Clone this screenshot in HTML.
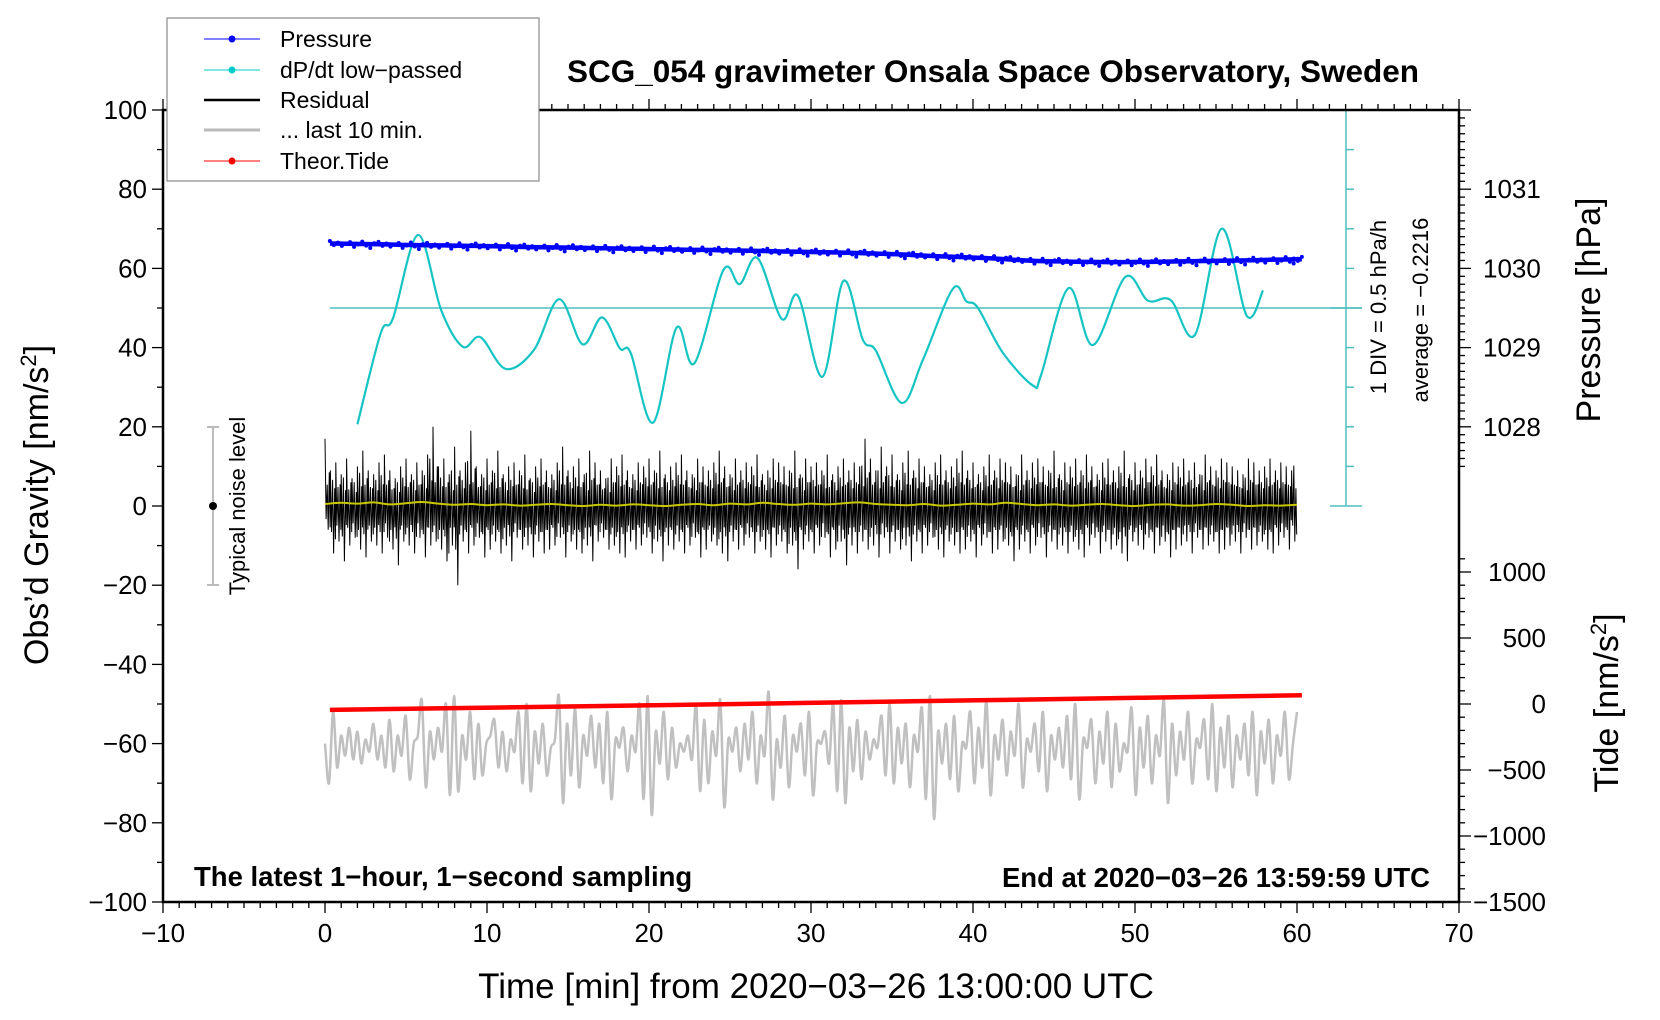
<!DOCTYPE html>
<html><head><meta charset="utf-8"><style>
html,body{margin:0;padding:0;background:#fff;}
svg{display:block;font-family:"Liberation Sans",Arial,sans-serif;}
</style></head><body>
<svg id="chart" width="1660" height="1020" viewBox="0 0 1660 1020" xmlns="http://www.w3.org/2000/svg">
<rect width="1660" height="1020" fill="#fff"/>
<g id="marks"></g>
<g id="axes"></g>
<text x="993" y="82" text-anchor="middle" font-size="31.5" font-weight="bold">SCG_054 gravimeter Onsala Space Observatory, Sweden</text>
<text x="816" y="998" text-anchor="middle" font-size="35">Time [min] from 2020−03−26 13:00:00 UTC</text>
<text transform="translate(48,505) rotate(-90)" text-anchor="middle" font-size="34">Obs’d Gravity [nm/s<tspan dy="-12" font-size="22">2</tspan><tspan dy="12">]</tspan></text>
<text transform="translate(1600,310) rotate(-90)" text-anchor="middle" font-size="34">Pressure [hPa]</text>
<text transform="translate(1618,703) rotate(-90)" text-anchor="middle" font-size="34">Tide [nm/s<tspan dy="-12" font-size="22">2</tspan><tspan dy="12">]</tspan></text>
<text transform="translate(1386,307) rotate(-90)" text-anchor="middle" font-size="22">1 DIV = 0.5 hPa/h</text>
<text transform="translate(1428,310) rotate(-90)" text-anchor="middle" font-size="22">average = −0.2216</text>
<text x="194" y="886" font-size="27.5" font-weight="bold">The latest 1−hour, 1−second sampling</text>
<text x="1430" y="887" text-anchor="end" font-size="27.5" font-weight="bold">End at 2020−03−26 13:59:59 UTC</text>
<g>
<line x1="213" y1="427" x2="213" y2="585" stroke="#bbb" stroke-width="2"/>
<line x1="207" y1="427" x2="219" y2="427" stroke="#bbb" stroke-width="2"/>
<line x1="207" y1="585" x2="219" y2="585" stroke="#bbb" stroke-width="2"/>
<circle cx="213" cy="506" r="4" fill="#000"/>
<text transform="translate(245,506) rotate(-90)" text-anchor="middle" font-size="22">Typical noise level</text>
</g>
<g>
<rect x="167" y="18" width="372" height="163" fill="#fff" stroke="#888" stroke-width="1.2"/>
<g><line x1="204" y1="39" x2="260" y2="39" stroke="#00f" stroke-width="1"/><circle cx="232" cy="39" r="3.5" fill="#00f"/><text x="280" y="47" font-size="23">Pressure</text></g>
<g><line x1="204" y1="70" x2="260" y2="70" stroke="#0cc" stroke-width="1"/><circle cx="232" cy="70" r="3.5" fill="#0cc"/><text x="280" y="78" font-size="23">dP/dt low−passed</text></g>
<g><line x1="204" y1="100" x2="260" y2="100" stroke="#000" stroke-width="2.5"/><text x="280" y="108" font-size="23">Residual</text></g>
<g><line x1="204" y1="130" x2="260" y2="130" stroke="#bbb" stroke-width="3"/><text x="280" y="138" font-size="23">... last 10 min.</text></g>
<g><line x1="204" y1="161" x2="260" y2="161" stroke="#f00" stroke-width="1"/><circle cx="232" cy="161" r="3.5" fill="#f00"/><text x="280" y="169" font-size="23">Theor.Tide</text></g>
</g>
</svg>
<script>
// ---- data ----
const pressureT0 = 0.3;
const pressureVals = [1030.315,1030.312,1030.308,1030.305,1030.300,1030.296,1030.292,1030.290,1030.287,1030.284,1030.280,1030.276,1030.270,1030.268,1030.265,1030.262,1030.258,1030.254,1030.250,1030.247,1030.244,1030.240,1030.236,1030.233,1030.230,1030.226,1030.222,1030.218,1030.214,1030.210,1030.206,1030.202,1030.198,1030.192,1030.186,1030.178,1030.168,1030.158,1030.150,1030.143,1030.135,1030.125,1030.112,1030.100,1030.092,1030.088,1030.084,1030.082,1030.080,1030.080,1030.082,1030.084,1030.087,1030.090,1030.093,1030.097,1030.100,1030.104,1030.108,1030.112,1030.115];
const dpdtTimes = [2.0,3.44,4.2,5.74,7.17,8.5,9.6,11.15,12.9,14.45,15.9,17.1,18.2,18.87,20.25,21.7,22.8,24.6,25.6,26.7,28.2,29.2,30.7,32.0,33.2,34.0,35.6,36.9,38.75,39.6,40.3,41.85,43.7,44.2,45.9,47.4,49.4,50.8,52.2,53.7,55.35,56.9,57.9];
const dpdtVals = [-1.69,-0.54,-0.35,0.70,-0.25,-0.71,-0.59,-0.99,-0.75,-0.11,-0.68,-0.34,-0.73,-0.79,-1.67,-0.47,-0.92,0.26,0.08,0.41,-0.36,-0.07,-1.09,0.12,-0.62,-0.76,-1.42,-0.88,0.02,-0.14,-0.22,-0.79,-1.20,-1.07,0.03,-0.69,0.17,-0.13,-0.12,-0.56,0.78,-0.32,0.00];
const dpdtAverage = -0.2216;
const residHi = [17,9,11,8,12,7,10,14,9,8,11,13,9,7,10,12,8,11,9,13,20,10,12,8,15,9,11,19,10,8,12,9,14,8,10,11,9,13,7,10,12,9,8,11,15,9,10,12,8,14,11,9,7,12,10,13,9,8,11,10,12,9,14,8,10,11,13,9,8,12,10,9,11,14,10,8,12,9,11,10,13,8,9,12,11,10,9,14,8,12,10,11,9,13,8,10,12,9,11,10,17,12,9,15,10,13,8,11,14,9,12,10,8,11,13,9,10,12,14,9,11,8,10,13,9,12,11,10,8,13,9,11,12,10,9,14,8,11,10,12,9,13,10,8,11,12,9,10,14,8,11,9,12,10,13,9,8,11,10,12,9,11,8,13,10,9,12,11,10,9,8,12,11,9,10,12,9,11,10,9];
const residLo = [-6,-12,-9,-14,-10,-8,-11,-13,-9,-10,-12,-8,-11,-15,-9,-10,-12,-8,-13,-10,-9,-11,-14,-10,-20,-9,-12,-10,-8,-13,-11,-9,-12,-10,-14,-8,-11,-10,-13,-9,-12,-11,-10,-8,-13,-9,-11,-12,-10,-14,-9,-8,-11,-10,-12,-13,-9,-11,-10,-8,-12,-9,-14,-10,-11,-9,-12,-10,-8,-13,-11,-9,-10,-12,-14,-9,-11,-10,-8,-12,-9,-11,-13,-10,-9,-12,-10,-16,-11,-9,-12,-10,-8,-13,-11,-9,-15,-10,-12,-9,-11,-10,-13,-8,-12,-9,-11,-10,-14,-9,-12,-10,-8,-11,-13,-9,-10,-12,-11,-9,-13,-10,-8,-12,-11,-9,-10,-14,-11,-9,-12,-10,-8,-13,-9,-11,-10,-12,-9,-11,-13,-10,-8,-12,-9,-11,-10,-12,-14,-9,-10,-11,-8,-12,-10,-9,-13,-11,-10,-9,-12,-8,-11,-10,-9,-12,-11,-10,-9,-12,-8,-11,-10,-9,-11,-12,-10,-8,-11,-9];
const smoothVals = [0.5,0.8,0.6,0.9,0.4,0.7,1.0,0.6,0.3,0.5,0.2,0.4,0.1,0.3,0.5,0.2,0.0,0.3,0.1,0.4,0.2,0.0,0.3,0.5,0.2,0.6,0.4,0.8,0.5,0.3,0.6,0.4,0.7,0.9,0.5,0.3,0.2,0.5,0.1,0.3,0.6,0.4,0.8,0.5,0.2,0.4,0.1,0.3,0.5,0.2,0.0,0.3,0.4,0.1,0.2,0.5,0.3,0.0,0.2,0.1,0.3];
const last10Vals = [-60,-70,-52,-66,-58,-63,-56,-64,-57,-65,-59,-62,-55,-64,-58,-66,-54,-67,-58,-63,-53,-69,-60,-58,-49,-71,-57,-64,-56,-62,-50,-73,-48,-72,-58,-64,-52,-69,-55,-68,-60,-58,-54,-66,-57,-67,-59,-62,-52,-70,-50,-72,-57,-65,-55,-68,-61,-59,-48,-75,-55,-68,-51,-71,-58,-63,-53,-66,-55,-70,-52,-74,-59,-61,-56,-67,-58,-62,-50,-74,-48,-78,-57,-65,-52,-69,-56,-66,-60,-62,-58,-64,-50,-72,-54,-70,-57,-63,-49,-76,-59,-62,-56,-67,-55,-64,-52,-70,-58,-63,-47,-74,-59,-66,-53,-71,-58,-62,-55,-68,-52,-73,-60,-60,-57,-65,-50,-72,-49,-75,-56,-67,-54,-69,-57,-64,-59,-61,-53,-68,-50,-70,-56,-65,-55,-71,-58,-62,-51,-74,-48,-79,-57,-65,-55,-69,-53,-72,-60,-61,-52,-70,-56,-66,-49,-73,-58,-64,-54,-68,-57,-63,-50,-71,-59,-62,-55,-67,-52,-72,-58,-64,-56,-66,-53,-69,-50,-74,-59,-61,-54,-70,-57,-65,-52,-71,-55,-67,-60,-62,-51,-73,-56,-66,-53,-70,-58,-63,-49,-75,-55,-68,-57,-64,-52,-70,-59,-61,-54,-69,-50,-72,-56,-66,-53,-71,-58,-64,-55,-68,-52,-73,-57,-65,-54,-70,-58,-63,-52,-69,-60,-52];
const tideTimes = [0.3,10.3,20.3,30.3,40.3,50.3,60.3];
const tideVals = [-45,-27,-9,9,28,47,66];
const xTicks = [-10,0,10,20,30,40,50,60,70];
const yTicks = [100,80,60,40,20,0,-20,-40,-60,-80,-100];
const pressureTicks = [1031,1030,1029,1028];
const tideTicks = [1000,500,0,-500,-1000,-1500];

// ---- scales ----
const X = t => 325 + t * 16.2;
const G = g => 110 + (100 - g) * 3.96;
const P = p => G(60 + (p - 1030) * 20);
const T = v => G(v / 30 - 50);
const D = d => G(50 + (d - dpdtAverage) * 20);

const NS = 'http://www.w3.org/2000/svg';
const marks = document.getElementById('marks');
const axes = document.getElementById('axes');
function mk(tag, attrs, parent) {
  const e = document.createElementNS(NS, tag);
  for (const k in attrs) e.setAttribute(k, attrs[k]);
  parent.appendChild(e);
  return e;
}
function smoothPath(pts) {
  let d = 'M' + pts[0][0].toFixed(1) + ',' + pts[0][1].toFixed(1);
  for (let i = 0; i < pts.length - 1; i++) {
    const p0 = pts[i - 1] || pts[i], p1 = pts[i], p2 = pts[i + 1], p3 = pts[i + 2] || p2;
    const c1x = p1[0] + (p2[0] - p0[0]) / 6, c1y = p1[1] + (p2[1] - p0[1]) / 6;
    const c2x = p2[0] - (p3[0] - p1[0]) / 6, c2y = p2[1] - (p3[1] - p1[1]) / 6;
    d += 'C' + c1x.toFixed(1) + ',' + c1y.toFixed(1) + ' ' + c2x.toFixed(1) + ',' + c2y.toFixed(1) + ' ' + p2[0].toFixed(1) + ',' + p2[1].toFixed(1);
  }
  return d;
}

// dP/dt reference axis
const refAxis = mk('g', {}, marks);


mk('line', {x1: X(0.3), y1: D(dpdtAverage), x2: 1362, y2: D(dpdtAverage), stroke: '#4fbfbf', 'stroke-width': 1.5}, refAxis);
mk('line', {x1: 1346, y1: G(100), x2: 1346, y2: G(0), stroke: '#4fbfbf', 'stroke-width': 1.5}, refAxis);
for (let g = 0; g <= 100; g += 10) {
  const major = (g === 0 || g === 50 || g === 100);
  mk('line', {x1: major ? 1330 : 1346, y1: G(g), x2: major ? 1362 : 1354, y2: G(g), stroke: '#4fbfbf', 'stroke-width': 1.5}, refAxis);
}

// last 10 min (grey)
const lastPts = last10Vals.map((v, i) => [X(i * 60 / (last10Vals.length - 1)), G(v)]);
const grey = mk('path', {d: smoothPath(lastPts), fill: 'none', stroke: '#c0c0c0', 'stroke-width': 2.5}, marks);



// tide (red)
const tidePts = tideTimes.map((t, i) => [X(t), T(tideVals[i])]);
const tide = mk('path', {d: 'M' + tidePts.map(p => p[0].toFixed(1) + ',' + p[1].toFixed(1)).join('L'), fill: 'none', stroke: '#f00', 'stroke-width': 4.5}, marks);



// residual (black)
let rd = '';
const nb = residHi.length;
const w = 60 / nb;
for (let i = 0; i < nb; i++) {
  const t0 = i * w;
  const hiN = residHi[(i + 1) % nb], loN = residLo[(i + 2) % nb];
  const seq = [[t0, residHi[i]], [t0 + w * 0.2, residLo[i] * 0.55], [t0 + w * 0.4, hiN * 0.6], [t0 + w * 0.6, residLo[i]], [t0 + w * 0.8, residHi[i] * 0.5], [t0 + w * 0.95, loN * 0.6]];
  seq.forEach((p, j) => {
    rd += ((i === 0 && j === 0) ? 'M' : 'L') + X(p[0]).toFixed(1) + ',' + G(p[1]).toFixed(1);
  });
}
const resid = mk('path', {d: rd, fill: 'none', stroke: '#000', 'stroke-width': 1}, marks);



// smoothed residual (yellow)
const smPts = smoothVals.map((v, i) => [X(i * 60 / (smoothVals.length - 1)), G(v)]);
const sm = mk('path', {d: smoothPath(smPts), fill: 'none', stroke: '#c8c800', 'stroke-width': 2}, marks);



// dP/dt (cyan)
const dPts = dpdtTimes.map((t, i) => [X(t), D(dpdtVals[i])]);
const dp = mk('path', {d: smoothPath(dPts), fill: 'none', stroke: '#17c4c4', 'stroke-width': 2.2}, marks);



// pressure (blue)
const pPts = pressureVals.map((v, i) => [X(pressureT0 + i), P(v)]);
const pr = mk('path', {d: smoothPath(pPts), fill: 'none', stroke: '#00f', 'stroke-width': 4.5}, marks);


const jit = [-3, 2, -1, 3, 0, -2, 4, 1, -3, 2, 5, -1];
pPts.forEach((p, i) => {
  for (let k = 0; k < 4; k++) {
    const off = (i === pPts.length - 1) ? -k * 4 : k * 4;
    const c = mk('circle', {cx: p[0] + off, cy: p[1] + jit[(i * 4 + k) % jit.length] * 0.8, r: 2, fill: '#00f'}, marks);
    
    
  }
});

// ---- axes ----
const L = X(-10), R = X(70), TOP = G(100), BOT = G(-100);
const frame = mk('rect', {x: L, y: TOP, width: R - L, height: BOT - TOP, fill: 'none', stroke: '#000', 'stroke-width': 2.5}, axes);


for (let t = -10; t <= 70; t++) {
  const len = (t % 10 === 0) ? 11 : 6;
  mk('line', {x1: X(t), y1: BOT, x2: X(t), y2: BOT + len, stroke: '#000', 'stroke-width': 1.3}, axes);
  mk('line', {x1: X(t), y1: TOP, x2: X(t), y2: TOP - len, stroke: '#000', 'stroke-width': 1.3}, axes);
}
xTicks.forEach(t => {
  const tx = mk('text', {x: X(t), y: BOT + 40, 'text-anchor': 'middle', 'font-size': 26}, axes);
  tx.textContent = String(t).replace('-', '−');
  
  
});
for (let g = -100; g <= 100; g += 10) {
  const len = (g % 20 === 0) ? 11 : 6;
  mk('line', {x1: L - len, y1: G(g), x2: L, y2: G(g), stroke: '#000', 'stroke-width': 1.3}, axes);
}
yTicks.forEach(g => {
  const tx = mk('text', {x: L - 16, y: G(g) + 9, 'text-anchor': 'end', 'font-size': 26}, axes);
  tx.textContent = String(g).replace('-', '−');
  
  
});
for (let k = 10275; k <= 10320; k++) {
  const p = k / 10;
  const len = (k % 10 === 0) ? 12 : 6;
  mk('line', {x1: R, y1: P(p), x2: R + len, y2: P(p), stroke: '#000', 'stroke-width': 1.3}, axes);
}
pressureTicks.forEach(p => {
  const tx = mk('text', {x: R + 24, y: P(p) + 9, 'font-size': 26}, axes);
  tx.textContent = String(p);
  
  
});
for (let v = -1500; v <= 1100; v += 100) {
  const len = (v % 500 === 0) ? 12 : 6;
  mk('line', {x1: R, y1: T(v), x2: R + len, y2: T(v), stroke: '#000', 'stroke-width': 1.3}, axes);
}
tideTicks.forEach(v => {
  const tx = mk('text', {x: 1546, y: T(v) + 9, 'text-anchor': 'end', 'font-size': 26}, axes);
  tx.textContent = String(v).replace('-', '−');
  
  
});
</script>
</body></html>
